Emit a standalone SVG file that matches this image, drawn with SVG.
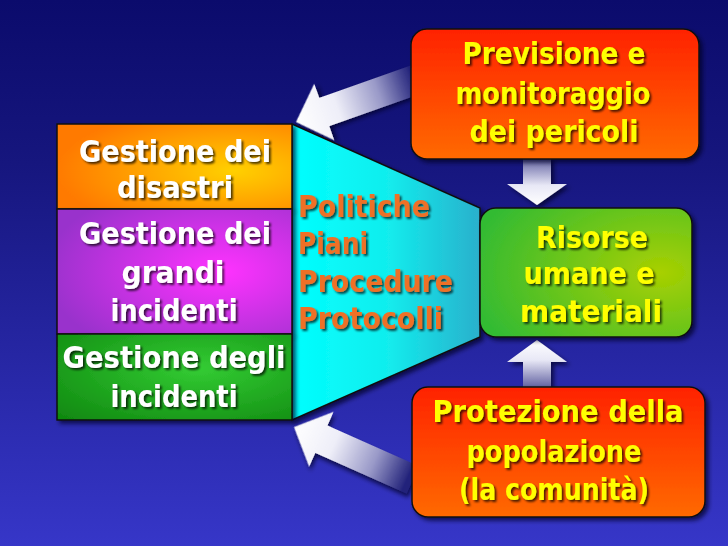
<svg xmlns="http://www.w3.org/2000/svg" width="728" height="546" viewBox="0 0 728 546">
<defs>
<linearGradient id="bg" x1="0" y1="0" x2="0" y2="1">
<stop offset="0" stop-color="#0b0b6c"/>
<stop offset="0.3" stop-color="#16167e"/>
<stop offset="1" stop-color="#3636c8"/>
</linearGradient>
<linearGradient id="redg" x1="0" y1="0" x2="0" y2="1">
<stop offset="0" stop-color="#ff2200"/>
<stop offset="1" stop-color="#ff6a00"/>
</linearGradient>
<radialGradient id="greeng" cx="0.85" cy="0.5" r="0.9">
<stop offset="0" stop-color="#a8d000"/>
<stop offset="1" stop-color="#33bb33"/>
</radialGradient>
<radialGradient id="orangeg" cx="0.75" cy="0.55" r="0.75">
<stop offset="0" stop-color="#ffd000"/>
<stop offset="1" stop-color="#ff7a00"/>
</radialGradient>
<radialGradient id="purpleg" cx="0.7" cy="0.5" r="0.75">
<stop offset="0" stop-color="#ff33ff"/>
<stop offset="1" stop-color="#9933cc"/>
</radialGradient>
<radialGradient id="dgreeng" cx="0.6" cy="0.4" r="0.8">
<stop offset="0" stop-color="#33cc33"/>
<stop offset="1" stop-color="#118a11"/>
</radialGradient>
<linearGradient id="cyang" x1="0" y1="0" x2="1" y2="0">
<stop offset="0" stop-color="#00ffff"/>
<stop offset="0.5" stop-color="#11eeee"/>
<stop offset="1" stop-color="#2ab0cc"/>
</linearGradient>
<linearGradient id="arrg" gradientUnits="userSpaceOnUse" x1="0" y1="0" x2="125" y2="0">
<stop offset="0" stop-color="#ffffff"/>
<stop offset="0.35" stop-color="#eeeef8"/>
<stop offset="0.7" stop-color="#9999c8"/>
<stop offset="1" stop-color="#22227a"/>
</linearGradient>
<linearGradient id="downg" x1="0" y1="0" x2="0" y2="1">
<stop offset="0" stop-color="#555599"/>
<stop offset="0.6" stop-color="#e8e8f6"/>
<stop offset="1" stop-color="#ffffff"/>
</linearGradient>
<linearGradient id="upg" x1="0" y1="1" x2="0" y2="0">
<stop offset="0" stop-color="#555599"/>
<stop offset="0.6" stop-color="#e8e8f6"/>
<stop offset="1" stop-color="#ffffff"/>
</linearGradient>
<filter id="sh" x="-10%" y="-10%" width="130%" height="130%">
<feDropShadow dx="3" dy="3" stdDeviation="2" flood-color="#000022" flood-opacity="0.7"/>
</filter>
<filter id="tsh" x="-10%" y="-20%" width="130%" height="150%">
<feDropShadow dx="2" dy="2" stdDeviation="0.8" flood-color="#000000" flood-opacity="0.7"/>
</filter>
</defs>
<style>
.t { font-family: "DejaVu Sans Condensed", "DejaVu Sans", sans-serif; font-stretch: condensed; font-weight: bold; font-size: 30px; filter: url(#tsh); }
.w { fill: #ffffff; text-anchor: middle; }
.y { fill: #ffff00; text-anchor: middle; }
.o { fill: #ee7028; }
.box { stroke: #111111; stroke-width: 1.5; filter: url(#sh); }
.arr { filter: url(#sh); }
</style>
<rect x="0" y="0" width="728" height="546" fill="url(#bg)"/>

<g id="connectors">
<g class="arr" transform="translate(296,122) rotate(-19.5)">
<path d="M0,0 L30,-30 L30,-15 L130,-15 L130,15 L30,15 L30,30 Z" fill="url(#arrg)"/>
</g>
<g class="arr" transform="translate(294,427) rotate(24)">
<path d="M0,0 L30,-30 L30,-15 L130,-15 L130,15 L30,15 L30,30 Z" fill="url(#arrg)"/>
</g>
<path class="arr" d="M523,156 L551,156 L551,184 L567,184 L537,205 L507,184 L523,184 Z" fill="url(#downg)"/>
<path class="arr" d="M537,340 L567,362 L551,362 L551,390 L523,390 L523,362 L507,362 Z" fill="url(#upg)"/>
</g>

<g id="n-politiche">
<path class="box" d="M292,124 L480,208 L480,337 L292,420 Z" fill="url(#cyang)" stroke-width="1"/>
<text class="t o" x="298" y="217" textLength="132" lengthAdjust="spacingAndGlyphs">Politiche</text>
<text class="t o" x="298" y="254" textLength="70" lengthAdjust="spacingAndGlyphs">Piani</text>
<text class="t o" x="298" y="292" textLength="155" lengthAdjust="spacingAndGlyphs">Procedure</text>
<text class="t o" x="298" y="329" textLength="145" lengthAdjust="spacingAndGlyphs">Protocolli</text>
</g>

<g id="n-disastri">
<rect class="box" x="57" y="124" width="235" height="85" fill="url(#orangeg)"/>
<text class="t w" x="175" y="162" textLength="192" lengthAdjust="spacingAndGlyphs">Gestione dei</text>
<text class="t w" x="175" y="198" textLength="116" lengthAdjust="spacingAndGlyphs">disastri</text>
</g>

<g id="n-grandi">
<rect class="box" x="57" y="209" width="235" height="125" fill="url(#purpleg)"/>
<text class="t w" x="175" y="244" textLength="192" lengthAdjust="spacingAndGlyphs">Gestione dei</text>
<text class="t w" x="173" y="283" textLength="103" lengthAdjust="spacingAndGlyphs">grandi</text>
<text class="t w" x="174" y="321" textLength="127" lengthAdjust="spacingAndGlyphs">incidenti</text>
</g>

<g id="n-incidenti">
<rect class="box" x="57" y="334" width="235" height="86" fill="url(#dgreeng)"/>
<text class="t w" x="174" y="368" textLength="223" lengthAdjust="spacingAndGlyphs">Gestione degli</text>
<text class="t w" x="174" y="407" textLength="127" lengthAdjust="spacingAndGlyphs">incidenti</text>
</g>

<g id="n-previsione">
<rect class="box" x="411" y="29" width="288" height="130" rx="16" fill="url(#redg)"/>
<text class="t y" x="554" y="64" textLength="183" lengthAdjust="spacingAndGlyphs">Previsione e</text>
<text class="t y" x="553" y="104" textLength="195" lengthAdjust="spacingAndGlyphs">monitoraggio</text>
<text class="t y" x="554" y="142" textLength="169" lengthAdjust="spacingAndGlyphs">dei pericoli</text>
</g>

<g id="n-risorse">
<rect class="box" x="480" y="208" width="212" height="129" rx="16" fill="url(#greeng)"/>
<text class="t y" x="592" y="248" textLength="112" lengthAdjust="spacingAndGlyphs">Risorse</text>
<text class="t y" x="589" y="284" textLength="131" lengthAdjust="spacingAndGlyphs">umane e</text>
<text class="t y" x="591" y="322" textLength="142" lengthAdjust="spacingAndGlyphs">materiali</text>
</g>

<g id="n-protezione">
<rect class="box" x="412" y="387" width="293" height="130" rx="16" fill="url(#redg)"/>
<text class="t y" x="558" y="422" textLength="251" lengthAdjust="spacingAndGlyphs">Protezione della</text>
<text class="t y" x="554" y="462" textLength="175" lengthAdjust="spacingAndGlyphs">popolazione</text>
<text class="t y" x="554" y="500" textLength="190" lengthAdjust="spacingAndGlyphs">(la comunità)</text>
</g>
</svg>
